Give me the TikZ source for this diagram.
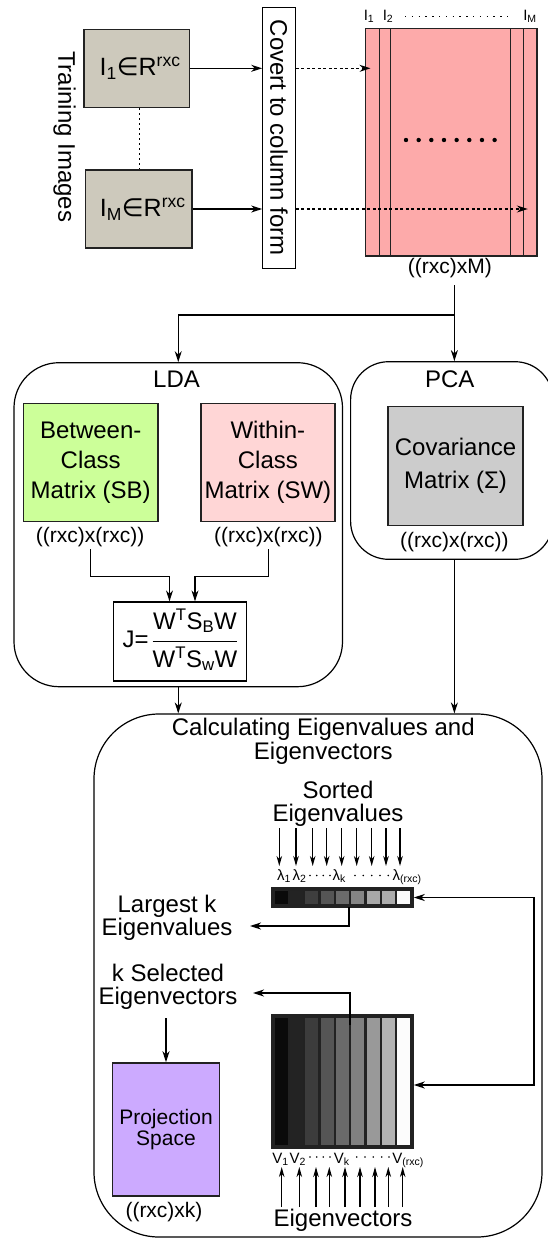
\documentclass[tikz,border=0pt]{standalone}
\usepackage{fontspec}
\setmainfont{Liberation Sans}
\newfontfamily\djv{DejaVu Sans}
\usetikzlibrary{arrows.meta}
\newcommand{\fsz}[1]{\fontsize{#1}{#1}\selectfont}
\newcommand{\fszb}[2]{\fontsize{#1}{#2}\selectfont}
\definecolor{tbox}{RGB}{205,201,188}
\definecolor{pinkm}{RGB}{253,170,170}
\definecolor{sbg}{RGB}{204,255,153}
\definecolor{swp}{RGB}{255,214,214}
\definecolor{covg}{RGB}{204,204,204}
\definecolor{projp}{RGB}{204,170,255}
\definecolor{edge}{RGB}{34,34,34}
\definecolor{bg1}{RGB}{10,10,10}
\definecolor{bg2}{RGB}{35,35,35}
\definecolor{bg3}{RGB}{62,62,62}
\definecolor{bg4}{RGB}{85,85,85}
\definecolor{bg5}{RGB}{107,107,107}
\definecolor{bg6}{RGB}{133,133,133}
\definecolor{bg7}{RGB}{168,168,168}
\definecolor{bg8}{RGB}{172,172,172}
\definecolor{bg9}{RGB}{250,250,250}
\definecolor{vg1}{RGB}{10,10,10}
\definecolor{vg2}{RGB}{35,35,35}
\definecolor{vg3}{RGB}{60,60,60}
\definecolor{vg4}{RGB}{85,85,85}
\definecolor{vg5}{RGB}{106,106,106}
\definecolor{vg6}{RGB}{128,128,128}
\definecolor{vg7}{RGB}{153,153,153}
\definecolor{vg8}{RGB}{179,179,179}
\definecolor{vg9}{RGB}{252,252,252}
\begin{document}
\begin{tikzpicture}[x=1pt,y=-1pt,line width=1.2pt,
  arr/.style={-{Stealth[length=11pt,width=7pt,inset=3.5pt]}},
  sarr/.style={-{Stealth[length=10pt,width=5.5pt,inset=3pt]},line width=1.1pt},
  arrboth/.style={{Stealth[length=11pt,width=7pt,inset=3.5pt]}-{Stealth[length=11pt,width=7pt,inset=3.5pt]}},
  dsharr/.style={arr,dash pattern=on 3pt off 2.5pt},
  fbox/.style={draw=edge,line width=1.5pt,rectangle,inner sep=0pt,align=center},
  rbox/.style={draw=black,line width=1.2pt,rectangle,inner sep=0pt},
  lbl/.style={inner sep=1.5pt,font=\fsz{21}},
  big/.style={inner sep=1pt,align=center,font=\fsz{24}},
  sml/.style={inner sep=0pt,anchor=base west,font=\fsz{15}},
  ilbl/.style={inner sep=0pt,anchor=base,font=\fsz{15}}]
\useasboundingbox[fill=white] (0,0) rectangle (548,1240);

% ---------- top part ----------
\node[big,rotate=-90] (train) at (64.7,136.7) {Training Images};
\node[fbox,fill=tbox,minimum width=105.5pt,minimum height=78pt,font=\fsz{25}] (i1) at (136.65,68.3) {\hspace*{7pt}I\textsubscript{1}{\djv ∈}R\textsuperscript{rxc}};
\node[fbox,fill=tbox,minimum width=106.3pt,minimum height=78pt,font=\fsz{25}] (im) at (138.75,209) {\hspace*{8pt}I\textsubscript{M}{\djv ∈}R\textsuperscript{rxc}};
\draw[dash pattern=on 1.5pt off 3.5pt] ([xshift=2.5pt]i1.south) -- ([xshift=2.5pt]i1.south |- im.north);
\node[draw=black,line width=1.3pt,fill=white,minimum width=32.5pt,minimum height=261pt,inner sep=0pt] (conv) at (279.05,137.8) {\rotatebox{-90}{\fsz{24}Covert to column form}};
\draw[arr] (i1.east) -- (i1.east -| conv.west);
\draw[arr] (im.east) -- (im.east -| conv.west);

\node[draw=edge,line width=1.5pt,fill=pinkm,minimum width=171.9pt,minimum height=227.7pt,inner sep=0pt] (cm) at (451.25,142.15) {};
\foreach \x in {379.2,390.8,510.3,523.6} \draw[edge,line width=1.3pt] (\x,28.3) -- (\x,256);
\foreach \i in {0,...,7} \fill ({406+\i*12.66},140) circle (2.2pt);
\coordinate (c1) at (370.5,68.3);
\coordinate (cM) at (527.8,209);
\draw[dsharr] (i1.east -| conv.east) -- (c1);
\draw[dsharr] (im.east -| conv.east) -- (cM);
\node[ilbl] (l1) at (369,20.5) {I\textsubscript{1}};
\node[ilbl] (l2) at (388,20.5) {I\textsubscript{2}};
\node[ilbl] (lM) at (530,20.5) {I\textsubscript{M}};
\draw[dash pattern=on 1.3pt off 5.5pt,line width=1.3pt] (405,16.5) -- (508,16.5);
\node[lbl] (cml) at (449.8,268.3) {((rxc)xM)};

% ---------- LDA ----------
\node[rbox,rounded corners=45pt,minimum width=328.5pt,minimum height=324pt] (lda) at (178.25,524.7) {};
\node[big] (ldat) at (176.5,379.3) {LDA};
\node[fbox,fill=sbg,minimum width=134.6pt,minimum height=118.4pt,font=\fszb{24}{30}] (sb) at (90.7,462.5) {Between-\\Class\\Matrix (SB)};
\node[fbox,fill=swp,minimum width=133.8pt,minimum height=118.4pt,font=\fszb{24}{30}] (sw) at (267.9,462.5) {Within-\\Class\\Matrix (SW)};
\node[lbl] (sbl) at (90.2,537.3) {((rxc)x(rxc))};
\node[lbl] (swl) at (268.4,537.3) {((rxc)x(rxc))};
\node[draw=black,line width=1.3pt,minimum width=133.4pt,minimum height=79pt,inner sep=0pt,font=\fsz{24}] (J) at (180,641.5)
  {J=\,{\setlength{\arrayrulewidth}{1.2pt}\begin{tabular}{@{}c@{}}W\textsuperscript{T}S\textsubscript{B}W\\[4.5pt]\hline\rule{0pt}{25pt}W\textsuperscript{T}S\textsubscript{w}W\end{tabular}}};
\coordinate (k1) at (169.5,576.7);
\coordinate (k2) at (195,576.7);
\draw[arr] (sbl.south) |- (k1) -- (k1 |- J.north);
\draw[arr] (swl.south) |- (k2) -- (k2 |- J.north);

% ---------- PCA ----------
\node[rbox,rounded corners=38pt,minimum width=202.4pt,minimum height=197.6pt] (pca) at (451.8,460.5) {};
\node[big] (pcat) at (449.8,379) {PCA};
\node[fbox,fill=covg,minimum width=135.2pt,minimum height=118.6pt,font=\fszb{24}{33}] (cov) at (455.6,466) {Covariance\\Matrix (Σ)};
\node[lbl] (covl) at (454.4,541.7) {((rxc)x(rxc))};

% ---------- split ----------
\coordinate (jn) at (454.4,315);
\draw ([yshift=-5pt]jn |- cml.south) -- (jn);
\draw[arr] (jn) -| (lda.north);
\draw[arr] (jn) -- (jn |- pca.north);

% ---------- Eigen ----------
\node[rbox,rounded corners=65pt,minimum width=448pt,minimum height=523pt] (eig) at (318,975.5) {};
\draw[arr] (lda.south) -- (lda.south |- eig.north);
\draw[arr] (jn |- pca.south) -- (jn |- eig.north);
\node[big,font=\fszb{24}{24}] (eigt) at (323.3,741) {Calculating Eigenvalues and\\Eigenvectors};
\node[big,font=\fszb{24}{23}] (sorted) at (338,803.5) {Sorted\\Eigenvalues};
\foreach \x [count=\i] in {279.3,296,312.7,326.7,341.7,356.7,371.7,386,400} {
  \coordinate (sa\i) at (\x,828);
  \coordinate (sb\i) at (\x,866);
  \draw[sarr] (sa\i) -- (sb\i);
}
\node[sml] (lam1) at (276.5,880) {λ\textsubscript{1}};
\node[sml] (lam2) at (292,880) {λ\textsubscript{2}};
\node[sml] (lamk) at (332,880) {λ\textsubscript{k}};
\node[sml] (lamr) at (392,880) {λ\textsubscript{(rxc)}};
\foreach \x in {310,316.7,323.3,330,355,363.3,371.7,380,388.3} \fill (\x,875.5) circle (0.9pt);

\node[draw=edge,fill=edge,line width=1.5pt,minimum width=141pt,minimum height=19pt,inner sep=0pt] (bar) at (342.5,897.5) {};
\foreach \i in {1,...,9} \fill[bg\i] ({274.5+(\i-1)*15.35},891) rectangle ++(13,13);

\node[big,font=\fszb{24}{21}] (largest) at (167,917.5) {Largest k\\Eigenvalues};
\coordinate (bk) at (349,907);
\coordinate (lk) at (250,926);
\draw[arr] (bk) |- (lk);

\node[big,font=\fszb{24}{23}] (ksel) at (168,986.5) {k Selected\\Eigenvectors};
\node[draw=edge,fill=edge,line width=1.5pt,minimum width=141pt,minimum height=133pt,inner sep=0pt] (vmat) at (342.5,1081.5) {};
\foreach \i in {1,...,9} \fill[vg\i] ({274.5+(\i-1)*15.35},1018.3) rectangle ++(13,126.7);
\coordinate (vk) at (350,1025);
\coordinate (sk) at (253,993);
\draw[arr] (vk) |- (sk);

\coordinate (rx) at (534,0);
\coordinate (vr) at ([yshift=-3.5pt]vmat.east);
\draw[arrboth] (bar.east) -- (bar.east -| rx) |- (vr);

\node[fbox,fill=projp,minimum width=107pt,minimum height=133pt,font=\fszb{21}{21}] (proj) at (166,1129.5) {Projection\\Space};
\coordinate (ps) at (166,1018);
\draw[arr] (ps) -- (proj.north);
\node[lbl] (projl) at (164,1212) {((rxc)xk)};

\node[sml] (v1) at (271.7,1163.3) {V\textsubscript{1}};
\node[sml] (v2) at (289,1163.3) {V\textsubscript{2}};
\node[sml] (vkk) at (333.3,1163.3) {V\textsubscript{k}};
\node[sml] (vrr) at (391.7,1163.3) {V\textsubscript{(rxc)}};
\foreach \x in {310,316.7,323.3,330,356.7,365,373.3,381.7,389} \fill (\x,1157) circle (0.9pt);
\foreach \x [count=\i] in {281.7,299.3,316,329.3,345,360,375,388.3,402.7} {
  \coordinate (ua\i) at (\x,1207);
  \coordinate (ub\i) at (\x,1167);
  \draw[sarr] (ua\i) -- (ub\i);
}
\node[big] (evec) at (343,1220) {Eigenvectors};
\end{tikzpicture}
\end{document}
